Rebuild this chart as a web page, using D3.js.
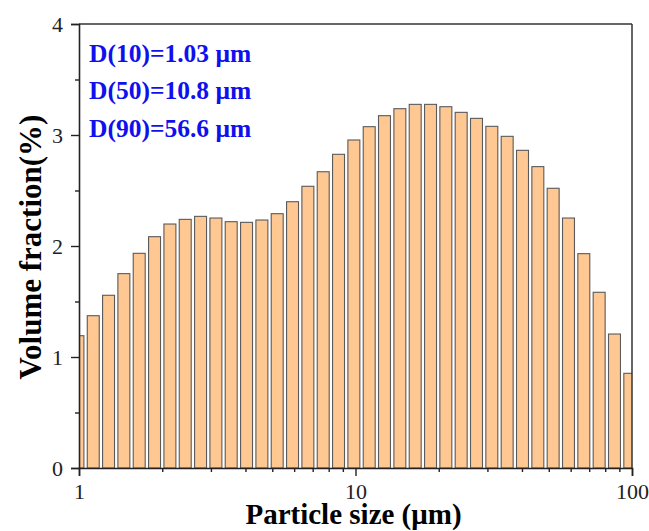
<!DOCTYPE html>
<html>
<head>
<meta charset="utf-8">
<script src="https://cdn.jsdelivr.net/npm/d3@7"></script>
<style>
  body { margin: 0; background: #fff; }
  svg text { font-family: "Liberation Serif", "DejaVu Serif", serif; }
</style>
</head>
<body>
<div id="chart"></div>
<script>
// particle size classes (um) and volume fractions (%)
const sizes = [0.991, 1.126, 1.279, 1.453, 1.651, 1.876, 2.132, 2.422, 2.752, 3.127,
    3.552, 4.036, 4.586, 5.210, 5.920, 6.726, 7.642, 8.682, 9.865, 11.21,
    12.73, 14.47, 16.44, 18.68, 21.22, 24.11, 27.39, 31.12, 35.36, 40.18,
    45.65, 51.86, 58.93, 66.95, 76.07, 86.43, 98.19];
const fractions = [1.192, 1.372, 1.556, 1.751, 1.934, 2.084, 2.198, 2.240, 2.267, 2.252,
    2.219, 2.213, 2.234, 2.291, 2.399, 2.538, 2.669, 2.826, 2.955, 3.075,
    3.174, 3.237, 3.276, 3.276, 3.255, 3.204, 3.150, 3.078, 2.988, 2.862,
    2.715, 2.520, 2.252, 1.931, 1.583, 1.207, 0.853];
const yTicks = [0, 1, 2, 3, 4];
const xTicks = [1, 10, 100];
const notes = ["D(10)=1.03 \u03bcm", "D(50)=10.8 \u03bcm", "D(90)=56.6 \u03bcm"];

const data = sizes.map((s, i) => ({size: s, value: fractions[i]}));

const margin = {top: 24, right: 17, bottom: 63, left: 79},
    width = 649 - margin.left - margin.right,
    height = 531 - margin.top - margin.bottom;

const svg = d3.select("#chart")
    .append("svg")
    .attr("width", 649)
    .attr("height", 531)
    .append("g")
    .attr("transform", "translate(" + margin.left + "," + margin.top + ")");

const x = d3.scaleLog()
    .domain([1, 100])
    .range([0, width]);

const y = d3.scaleLinear()
    .domain([0, 4])
    .range([height, 0]);

svg.append("clipPath")
    .attr("id", "plot-clip")
    .append("rect")
    .attr("width", width)
    .attr("height", height);

// bar width: about 78% of one size class step
const step = x(sizes[1]) - x(sizes[0]);
const barW = step * 0.78;

svg.append("g")
    .attr("clip-path", "url(#plot-clip)")
    .selectAll("rect")
    .data(data)
    .enter()
    .append("rect")
    .attr("x", d => x(d.size) - barW / 2)
    .attr("width", barW)
    .attr("y", d => y(d.value))
    .attr("height", d => height - y(d.value))
    .attr("fill", "#ffc893")
    .attr("stroke", "#5a5a5a")
    .attr("stroke-width", 1.1);

// frame (top and right)
svg.append("line")
    .attr("x1", 0).attr("x2", width).attr("y1", 0).attr("y2", 0)
    .attr("stroke", "#333").attr("stroke-width", 1.5);
svg.append("line")
    .attr("x1", width).attr("x2", width).attr("y1", 0).attr("y2", height)
    .attr("stroke", "#333").attr("stroke-width", 1.5);

// y axis
svg.append("g")
    .call(d3.axisLeft(y).tickValues(yTicks).tickSize(8).tickPadding(8).tickFormat(d3.format("d")));
svg.append("g")
    .call(d3.axisLeft(y).tickValues([0.5, 1.5, 2.5, 3.5]).tickSize(4).tickFormat(""))
    .select(".domain").remove();

// x axis
const minor = [];
[1, 10].forEach(b => { for (let k = 2; k <= 9; k++) minor.push(b * k); });
svg.append("g")
    .attr("transform", "translate(0," + height + ")")
    .call(d3.axisBottom(x).tickValues(xTicks).tickSize(8).tickPadding(7).tickFormat(d3.format("d")));
svg.append("g")
    .attr("transform", "translate(0," + height + ")")
    .call(d3.axisBottom(x).tickValues(minor).tickSize(4).tickFormat(""))
    .select(".domain").remove();

svg.selectAll(".domain").attr("stroke", "#222").attr("stroke-width", 1.6);
svg.selectAll(".tick line").attr("stroke", "#222").attr("stroke-width", 1.4);
svg.selectAll(".tick text")
    .style("font-size", "22px")
    .attr("fill", "#222");

// axis titles
svg.append("text")
    .attr("x", width / 2 - 2)
    .attr("y", height + 56)
    .attr("text-anchor", "middle")
    .style("font-size", "29px")
    .style("font-weight", "bold")
    .text("Particle size (\u03bcm)");

svg.append("text")
    .attr("transform", "translate(" + (-38) + "," + (height / 2 + 1) + ")rotate(-90)")
    .attr("text-anchor", "middle")
    .style("font-size", "31px")
    .style("font-weight", "bold")
    .text("Volume fraction(%)");

// D values
svg.selectAll(".note")
    .data(notes)
    .enter()
    .append("text")
    .attr("class", "note")
    .attr("x", 10)
    .attr("y", (d, i) => 38 + i * 37.3)
    .attr("fill", "#1010ee")
    .style("font-size", "25.5px")
    .style("font-weight", "bold")
    .text(d => d);
</script>
</body>
</html>
